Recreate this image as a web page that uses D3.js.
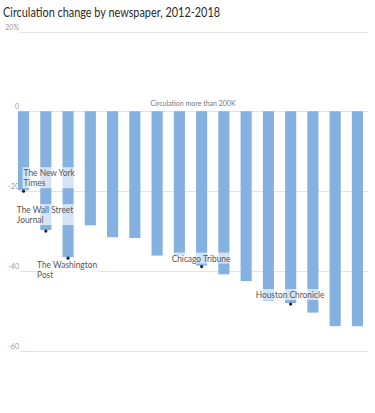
<!DOCTYPE html>
<html>
<head>
<meta charset="utf-8">
<script src="https://cdn.jsdelivr.net/npm/d3@7"></script>
<style>
  html, body { margin: 0; padding: 0; background: #fff; }
  svg { display: block; font-family: Lato, "Open Sans", sans-serif; }
</style>
</head>
<body>
<div id="chart"></div>
<script>
// newspapers with circulation above 200K, sorted as in the source
const papers = ["nyt", "wsj", "wapo", "p4", "p5", "p6", "p7", "p8", "chi", "p10", "p11", "p12", "hou", "p14", "p15", "p16"];
const change = [-19.8, -29.8, -36.6, -28.6, -31.6, -31.8, -36.2, -36.1, -38.7, -40.9, -42.6, -47.5, -48.1, -50.5, -53.9, -53.9];
const yTicks = [20, 0, -20, -40, -60];
const labelled = [
  { key: "nyt", lines: ["The New York", "Times"] },
  { key: "wsj", lines: ["The Wall Street", "Journal"] },
  { key: "wapo", lines: ["The Washington", "Post"] },
  { key: "chi", lines: ["Chicago Tribune"] },
  { key: "hou", lines: ["Houston Chronicle"] }
];

// label offsets from the dot at the bar end
const labelOffset = {
  nyt: [0, -14], wsj: [-29, -17], wapo: [-31, 11], chi: [-30, -4], hou: [-35, -5]
};

const width = 375, height = 413;
const svg = d3.select("#chart").append("svg")
  .attr("width", width).attr("height", height)
  .attr("viewBox", `0 0 ${width} ${height}`);

const x = d3.scaleBand().domain(papers).range([18, 363]).paddingInner(0.5).paddingOuter(0);
const y = d3.scaleLinear().domain([-60, 20]).range([350.5, 31.5]);

// source font is narrower than Lato, squeeze a bit
const squeeze = 0.88;

svg.append("text")
  .attr("x", 3).attr("y", 17)
  .attr("fill", "#2a2a2a").attr("font-size", 13)
  .attr("textLength", 217).attr("lengthAdjust", "spacingAndGlyphs")
  .text("Circulation change by newspaper, 2012-2018");

// gridlines + tick labels
const grid = svg.append("g");
grid.selectAll("line").data(yTicks).enter().append("line")
  .attr("x1", 20).attr("x2", 368)
  .attr("y1", (d) => Math.round(y(d)) + 0.5).attr("y2", (d) => Math.round(y(d)) + 0.5)
  .attr("stroke", "#e3e3e3").attr("stroke-width", 1);
grid.selectAll("text").data(yTicks).enter().append("text")
  .attr("x", 19).attr("y", (d) => y(d) - 2)
  .attr("text-anchor", "end")
  .attr("fill", "#999").attr("font-size", 7)
  .text((d) => d === 20 ? "20%" : d);

svg.append("text")
  .attr("x", 193).attr("y", 106)
  .attr("text-anchor", "middle")
  .attr("fill", "#777").attr("font-size", 7)
  .text("Circulation more than 200K");

svg.append("g").selectAll("rect").data(papers).enter().append("rect")
  .attr("x", (d) => x(d))
  .attr("y", y(0))
  .attr("width", x.bandwidth())
  .attr("height", (d, i) => y(change[i]) - y(0))
  .attr("fill", "#85b1e1");

// annotations
const ann = svg.append("g");
labelled.forEach((a) => {
  const i = papers.indexOf(a.key);
  const cx = x(a.key) + x.bandwidth() / 2;
  const cy = y(change[i]);
  const [dx, dy] = labelOffset[a.key];
  const t = ann.append("text")
    .attr("fill", "#555").attr("font-size", 9.5);
  a.lines.forEach((line, k) => {
    const ts = t.append("tspan").attr("x", cx + dx).attr("y", cy + dy + k * 10).text(line);
    ts.attr("textLength", ts.node().getComputedTextLength() * squeeze)
      .attr("lengthAdjust", "spacingAndGlyphs");
  });
  const bb = t.node().getBBox();
  ann.insert("rect", () => t.node())
    .attr("x", bb.x - 1).attr("y", bb.y)
    .attr("width", bb.width + 2).attr("height", bb.height)
    .attr("fill", "#fff").attr("opacity", 0.65);
  ann.append("circle")
    .attr("cx", cx).attr("cy", cy + 1)
    .attr("r", 1.6).attr("fill", "#222");
});
</script>
</body>
</html>
